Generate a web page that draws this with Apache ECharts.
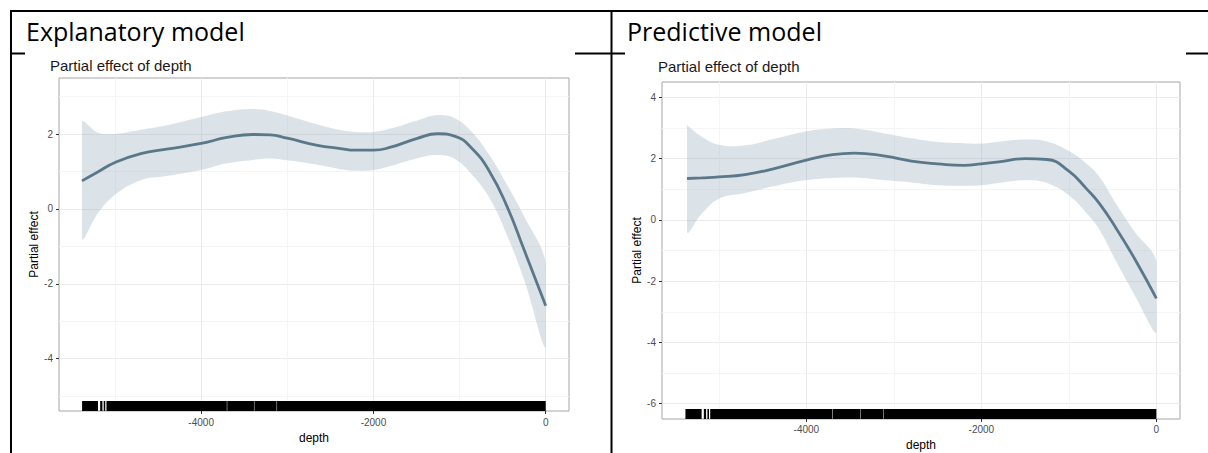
<!DOCTYPE html>
<html>
<head>
<meta charset="utf-8">
<script src="https://cdn.jsdelivr.net/npm/echarts@6/dist/echarts.min.js"></script>
<style>
  html, body { margin: 0; padding: 0; background: #fff; }
  #chart { width: 1208px; height: 453px; }
</style>
</head>
<body>
<div id="chart"></div>
<script>
// explanatory model: smooth of depth
var depthExpl = [-5384, -5200, -5000, -4700, -4400, -4000, -3700, -3400, -3200, -3000, -2650, -2400, -2200, -2000, -1800, -1500, -1250, -1050, -850, -650, -450, -250, 0];
var fitExpl   = [0.75, 0.99, 1.24, 1.48, 1.60, 1.75, 1.91, 1.99, 1.98, 1.89, 1.70, 1.62, 1.57, 1.57, 1.65, 1.88, 2.01, 1.94, 1.60, 0.99, 0.07, -1.10, -2.59];
var upperExpl = [2.31, 2.04, 2.01, 2.12, 2.24, 2.46, 2.61, 2.67, 2.62, 2.50, 2.26, 2.12, 2.06, 2.06, 2.15, 2.36, 2.51, 2.42, 2.04, 1.43, 0.65, -0.20, -1.45];
var lowerExpl = [-0.78, -0.12, 0.38, 0.77, 0.88, 1.04, 1.22, 1.31, 1.35, 1.30, 1.18, 1.07, 1.02, 1.04, 1.15, 1.35, 1.44, 1.33, 0.90, 0.28, -0.70, -1.90, -3.71];

// predictive model
var depthPred = [-5364, -5200, -5000, -4700, -4400, -4000, -3700, -3450, -3100, -2800, -2500, -2200, -2000, -1800, -1500, -1250, -1000, -800, -650, -450, -250, 0];
var fitPred   = [1.35, 1.37, 1.40, 1.48, 1.65, 1.95, 2.13, 2.18, 2.08, 1.92, 1.83, 1.78, 1.83, 1.89, 2.00, 1.97, 1.59, 1.02, 0.53, -0.32, -1.26, -2.56];
var upperPred = [3.09, 2.72, 2.45, 2.43, 2.62, 2.89, 2.98, 2.98, 2.82, 2.66, 2.54, 2.50, 2.49, 2.55, 2.62, 2.56, 2.25, 1.84, 1.40, 0.48, -0.38, -1.37];
var lowerPred = [-0.39, 0.19, 0.69, 0.88, 1.08, 1.30, 1.37, 1.38, 1.29, 1.22, 1.13, 1.11, 1.13, 1.20, 1.29, 1.20, 0.80, 0.22, -0.33, -1.41, -2.45, -3.70];

// rug: depth ranges covered by observations (same data in both fits)
var rugSegments = [[-5382, -5197], [-5172, -5146], [-5131, -5113], [-5099, -3702], [-3697, -3387], [-3382, -3124], [-3119, 0]];

var xMajor = [-4000, -2000, 0];
var xMinor = [-5000, -3000, -1000];
var yMajorExpl = [-4, -2, 0, 2];
var yMajorPred = [-6, -4, -2, 0, 2, 4];
var yMinor = [-5, -3, -1, 1, 3];

var panels = [
  { header: 'Explanatory model', hx: 26, title: 'Partial effect of depth', tx: 50, ty: 65,
    left: 59, top: 78, width: 510, height: 333, ymin: -5.4, ymax: 3.5,
    yMajor: yMajorExpl, yGap: 15, xGap: 18, xMargin: 6,
    depth: depthExpl, fit: fitExpl, upper: upperExpl, lower: lowerExpl },
  { header: 'Predictive model', hx: 627, title: 'Partial effect of depth', tx: 658, ty: 66,
    left: 662, top: 82, width: 518, height: 337, ymin: -6.5, ymax: 4.5,
    yMajor: yMajorPred, yGap: 19, xGap: 17, xMargin: 5,
    depth: depthPred, fit: fitPred, upper: upperPred, lower: lowerPred }
];

var font = '"Liberation Sans", Arial, sans-serif';
var lineColor = '#5a788a';
var bandColor = 'rgba(140,162,180,0.3)';

var grids = [], xAxes = [], yAxes = [], series = [], graphics = [];

panels.forEach(function (p, i) {
  grids.push({
    left: p.left, top: p.top, width: p.width, height: p.height,
    show: true, borderColor: '#a6a6a6', borderWidth: 1,
    outerBoundsMode: 'none'
  });
  xAxes.push({
    gridIndex: i, type: 'value', min: -5650, max: 270, position: 'bottom',
    name: 'depth', nameLocation: 'middle', nameGap: p.xGap,
    nameTextStyle: { color: '#000', fontSize: 12, fontFamily: font },
    axisLine: { show: false, onZero: false },
    axisTick: { show: true, length: 3, customValues: xMajor, lineStyle: { color: '#333' } },
    axisLabel: { customValues: xMajor, color: '#4d4d4d', fontSize: 10, fontFamily: font, margin: p.xMargin,
      formatter: function (v) { return String(v); } },
    splitLine: { show: true, lineStyle: { color: '#ebebeb', width: 1 } }
  });
  xAxes.push({
    gridIndex: i, type: 'value', min: -5650, max: 270, position: 'top',
    axisLine: { show: false, onZero: false },
    axisTick: { show: false, customValues: xMinor },
    axisLabel: { show: false, customValues: xMinor },
    splitLine: { show: true, lineStyle: { color: '#f5f5f5', width: 1 } }
  });
  yAxes.push({
    gridIndex: i, type: 'value', min: p.ymin, max: p.ymax, position: 'left',
    name: 'Partial effect', nameLocation: 'middle', nameRotate: 90, nameGap: p.yGap,
    nameTextStyle: { color: '#000', fontSize: 12, fontFamily: font },
    axisLine: { show: false, onZero: false },
    axisTick: { show: true, length: 3, customValues: p.yMajor, lineStyle: { color: '#333' } },
    axisLabel: { customValues: p.yMajor, color: '#4d4d4d', fontSize: 10, fontFamily: font, margin: 6,
      formatter: function (v) { return String(v); } },
    splitLine: { show: true, lineStyle: { color: '#ebebeb', width: 1 } }
  });
  yAxes.push({
    gridIndex: i, type: 'value', min: p.ymin, max: p.ymax, position: 'right',
    axisLine: { show: false, onZero: false },
    axisTick: { show: false, customValues: yMinor },
    axisLabel: { show: false, customValues: yMinor },
    splitLine: { show: true, lineStyle: { color: '#f5f5f5', width: 1 } }
  });

  // confidence band as one smoothed polygon
  series.push({
    type: 'custom', xAxisIndex: 2 * i, yAxisIndex: 2 * i, silent: true, z: 2,
    data: p.depth.map(function (d, k) { return [d, p.lower[k], p.upper[k]]; }),
    encode: { x: 0, y: [1, 2] },
    renderItem: function (params, api) {
      if (params.dataIndex !== 0) return;
      var pts = [];
      for (var k = 0; k < p.depth.length; k++) pts.push(api.coord([p.depth[k], p.upper[k]]));
      for (var k2 = p.depth.length - 1; k2 >= 0; k2--) pts.push(api.coord([p.depth[k2], p.lower[k2]]));
      var mn = [Infinity, Infinity], mx = [-Infinity, -Infinity];
      pts.forEach(function (q) {
        mn[0] = Math.min(mn[0], q[0]); mn[1] = Math.min(mn[1], q[1]);
        mx[0] = Math.max(mx[0], q[0]); mx[1] = Math.max(mx[1], q[1]);
      });
      return { type: 'polygon', shape: { points: pts, smooth: 0.4, smoothConstraint: [mn, mx] },
        style: { fill: bandColor, stroke: null } };
    }
  });

  // rug along the bottom of the panel
  series.push({
    type: 'custom', xAxisIndex: 2 * i, yAxisIndex: 2 * i, silent: true, z: 3,
    data: rugSegments,
    encode: { x: [0, 1] },
    renderItem: function (params, api) {
      var a = api.coord([api.value(0), 0]);
      var b = api.coord([api.value(1), 0]);
      var cs = params.coordSys;
      var h = Math.round(cs.height * 0.03);
      return { type: 'rect', shape: { x: a[0], y: cs.y + cs.height - h, width: Math.max(1, b[0] - a[0]), height: h },
        style: { fill: '#000' } };
    }
  });

  series.push({
    type: 'line', xAxisIndex: 2 * i, yAxisIndex: 2 * i, silent: true, z: 4,
    data: p.depth.map(function (d, k) { return [d, p.fit[k]]; }),
    smooth: true, symbol: 'none',
    lineStyle: { color: lineColor, width: 2.8 }
  });

  graphics.push({ type: 'text', x: p.hx, y: 31,
    style: { text: p.header, fill: '#000', font: '25px "Open Sans", "Noto Sans", sans-serif', textAlign: 'left', textVerticalAlign: 'middle' } });
  graphics.push({ type: 'text', x: p.tx, y: p.ty,
    style: { text: p.title, fill: '#1a1a1a', font: '15px ' + font, textAlign: 'left', textVerticalAlign: 'middle' } });
});

// table borders around the two cells
var borders = [
  [10, 11, 1208, 11],
  [11, 10, 11, 453],
  [611.5, 10, 611.5, 453],
  [10, 53.5, 25, 53.5],
  [575, 53.5, 625, 53.5],
  [1186, 53.5, 1208, 53.5]
];
borders.forEach(function (b) {
  graphics.push({ type: 'line', shape: { x1: b[0], y1: b[1], x2: b[2], y2: b[3] },
    style: { stroke: '#000', lineWidth: 2 } });
});

var chart = echarts.init(document.getElementById('chart'), null, { renderer: 'svg' });
chart.setOption({
  animation: false,
  backgroundColor: '#fff',
  grid: grids,
  xAxis: xAxes,
  yAxis: yAxes,
  series: series,
  graphic: graphics
});
</script>
</body>
</html>
